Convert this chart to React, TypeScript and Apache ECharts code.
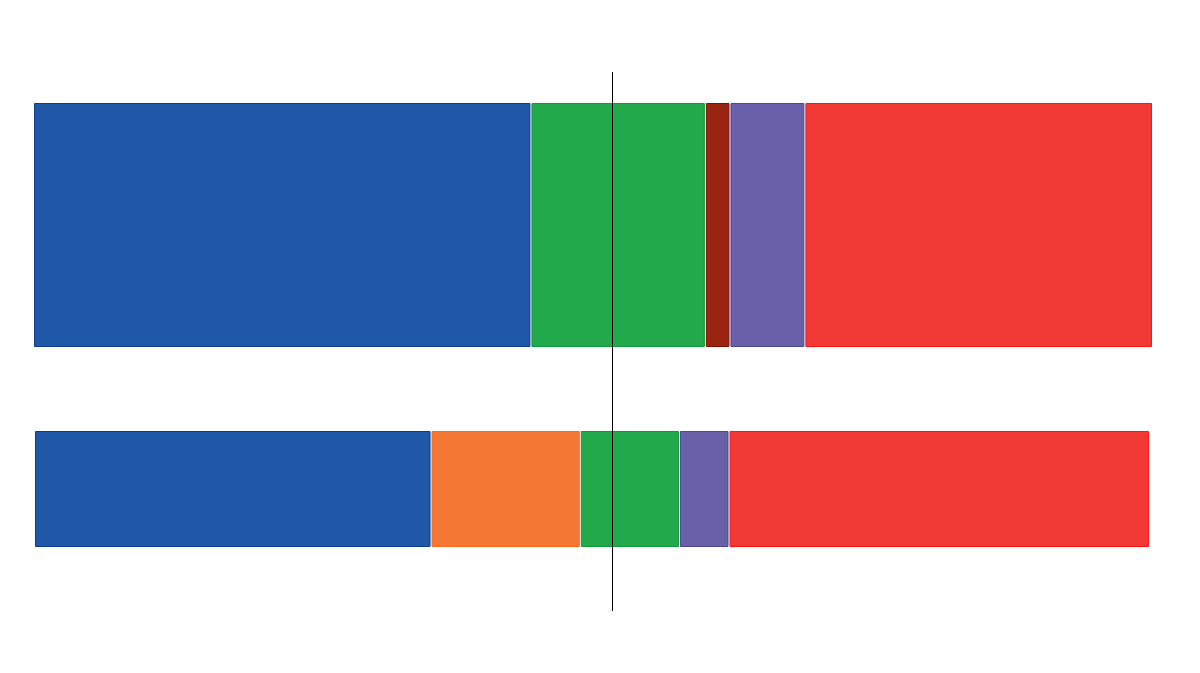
import React, { useEffect, useRef } from "react";
import * as echarts from "echarts";

const parties = ["A", "B", "C", "D", "E", "F"];
const topParties = ["blue", "green", "darkred", "purple", "red"];
const topValues = [44.45, 15.6, 2.2, 6.7, 31.05];
const bottomParties = ["blue", "orange", "green", "purple", "red"];
const bottomValues = [35.55, 13.4, 8.9, 4.45, 37.7];
const majority = 51.7;

const fills: Record<string, string> = {
  blue: "#1f58a7",
  green: "#21a94b",
  darkred: "#9a2412",
  purple: "#6861aa",
  red: "#f03834",
  orange: "#f57734",
};
const strokes: Record<string, string> = {
  blue: "#0b3d8e",
  green: "#0c9a3a",
  darkred: "#820f00",
  purple: "#4c4698",
  red: "#ff1414",
  orange: "#ff6a1c",
};

function segments(names: string[], vals: number[]) {
  let acc = 0;
  return vals.map((v, i) => {
    const item = { value: [acc, acc + v, i], name: names[i] };
    acc += v;
    return item;
  });
}

function makeRender(names: string[], count: number) {
  return (params: any, api: any) => {
    const i = api.value(2);
    const s = api.coord([api.value(0), 1]);
    const e = api.coord([api.value(1), 0]);
    const x0 = s[0] + (i > 0 ? 1 : 0.5);
    const x1 = e[0] - (i < count - 1 ? 1 : 0.5);
    const name = names[i];
    return {
      type: "rect",
      shape: { x: x0, y: s[1] + 0.5, width: x1 - x0, height: e[1] - s[1] - 1 },
      style: { fill: fills[name], stroke: strokes[name], lineWidth: 1 },
    };
  };
}

export default function App() {
  const ref = useRef<HTMLDivElement>(null);
  useEffect(() => {
    if (!ref.current) return;
    const chart = echarts.init(ref.current, null, { renderer: "svg" });
    const hiddenX = (gi: number) => ({
      type: "value",
      gridIndex: gi,
      min: 0,
      max: 100,
      show: false,
    });
    const hiddenY = (gi: number) => ({
      type: "value",
      gridIndex: gi,
      min: 0,
      max: 1,
      show: false,
    });
    chart.setOption({
      animation: false,
      backgroundColor: "#ffffff",
      grid: [
        { left: 34, top: 103, width: 1118, height: 244 },
        { left: 35, top: 431, width: 1114, height: 116 },
        { left: 34, top: 72, width: 1118, height: 539 },
      ],
      xAxis: [hiddenX(0), hiddenX(1), hiddenX(2)],
      yAxis: [hiddenY(0), hiddenY(1), hiddenY(2)],
      series: [
        {
          type: "custom",
          xAxisIndex: 0,
          yAxisIndex: 0,
          data: segments(topParties, topValues),
          renderItem: makeRender(topParties, topValues.length),
          encode: { x: [0, 1] },
        },
        {
          type: "custom",
          xAxisIndex: 1,
          yAxisIndex: 1,
          data: segments(bottomParties, bottomValues),
          renderItem: makeRender(bottomParties, bottomValues.length),
          encode: { x: [0, 1] },
        },
        {
          type: "custom",
          xAxisIndex: 2,
          yAxisIndex: 2,
          data: [[majority]],
          z: 10,
          renderItem: (params: any, api: any) => {
            const a = api.coord([api.value(0), 1]);
            const b = api.coord([api.value(0), 0]);
            const x = Math.round(a[0]) + 0.5;
            return {
              type: "line",
              shape: { x1: x, y1: a[1], x2: x, y2: b[1] },
              style: { stroke: "#000000", lineWidth: 1 },
            };
          },
        },
      ],
    });
    return () => chart.dispose();
  }, []);
  return (
    <div
      ref={ref}
      style={{ position: "fixed", left: 0, top: 0, width: 1200, height: 673 }}
    />
  );
}
